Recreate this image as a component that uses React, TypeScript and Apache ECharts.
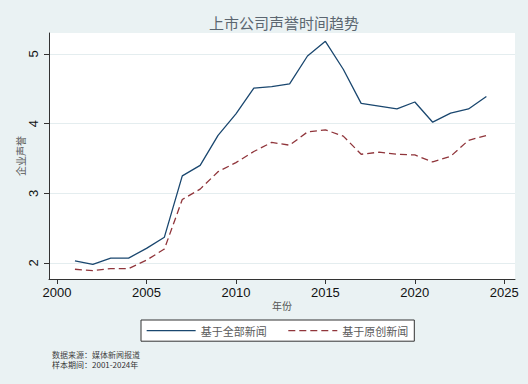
import React, { useEffect, useRef } from "react";
import * as echarts from "echarts";

const years = [2001, 2002, 2003, 2004, 2005, 2006, 2007, 2008, 2009, 2010, 2011, 2012, 2013, 2014, 2015, 2016, 2017, 2018, 2019, 2020, 2021, 2022, 2023, 2024];
const allNews = [2.03, 1.98, 2.07, 2.07, 2.21, 2.37, 3.25, 3.40, 3.83, 4.14, 4.51, 4.53, 4.57, 4.97, 5.18, 4.78, 4.29, 4.25, 4.21, 4.31, 4.02, 4.15, 4.21, 4.39];
const originalNews = [1.91, 1.89, 1.92, 1.92, 2.04, 2.20, 2.91, 3.06, 3.31, 3.44, 3.60, 3.73, 3.69, 3.88, 3.91, 3.82, 3.56, 3.59, 3.56, 3.55, 3.45, 3.53, 3.76, 3.83];
const xTicks = [2000, 2005, 2010, 2015, 2020, 2025];
const yTicks = [2, 3, 4, 5];
const seriesNames = ["基于全部新闻", "基于原创新闻"];
const title = "上市公司声誉时间趋势";
const xName = "年份";
const yName = "企业声誉";
const notes = ["数据来源：媒体新闻报道", "样本期间：2001-2024年"];

const FONT = "'Liberation Sans', 'Noto Sans CJK SC', sans-serif";
const CJK = "'Noto Sans CJK SC', 'Liberation Sans', sans-serif";

export default function App() {
  const ref = useRef<HTMLDivElement>(null);
  useEffect(() => {
    if (!ref.current) return;
    const chart = echarts.init(ref.current, null, { renderer: "svg" });
    chart.setOption({
      animation: false,
      backgroundColor: "#eaf2f3",
      title: {
        text: title,
        left: 279,
        textAlign: "center",
        top: 10,
        textStyle: { fontFamily: CJK, fontSize: 15, fontWeight: "normal", color: "#5b6670" },
      },
      grid: { left: 49, top: 33, right: 13, bottom: 105, backgroundColor: "#ffffff", show: true, borderWidth: 0 },
      xAxis: {
        type: "value",
        min: 1999.55,
        max: 2025.6,
        name: xName,
        nameLocation: "middle",
        nameGap: 21,
        nameMoveOverlap: false,
        nameTextStyle: { fontFamily: CJK, fontSize: 10, color: "#555" },
        axisLine: { show: true, onZero: false, lineStyle: { color: "#333", width: 1 } },
        axisTick: { show: true, length: 5, customValues: xTicks, lineStyle: { color: "#333" } },
        axisLabel: { customValues: xTicks, margin: 7, fontFamily: FONT, fontSize: 13, color: "#111", formatter: (v: number) => String(v) },
        splitLine: { show: false },
      },
      yAxis: {
        type: "value",
        min: 1.77,
        max: 5.3,
        name: yName,
        nameLocation: "middle",
        nameGap: 24,
        nameMoveOverlap: false,
        nameRotate: 90,
        nameTextStyle: { fontFamily: CJK, fontSize: 10, color: "#555" },
        axisLine: { show: true, onZero: false, lineStyle: { color: "#333", width: 1 } },
        axisTick: { show: true, length: 5, customValues: yTicks, lineStyle: { color: "#333" } },
        axisLabel: { customValues: yTicks, rotate: 90, margin: 9, fontFamily: FONT, fontSize: 13, color: "#111", formatter: (v: number) => String(v) },
        splitLine: { show: true, lineStyle: { color: "#e4edef", width: 1 } },
      },
      legend: {
        left: 141,
        top: 320,
        backgroundColor: "#ffffff",
        borderColor: "#333",
        borderWidth: 1,
        borderRadius: 0,
        padding: [5, 6, 5, 5],
        itemWidth: 49,
        itemHeight: 14,
        itemGap: 21,
        itemStyle: { opacity: 0 },
        lineStyle: { width: 1.3 },
        textStyle: { fontFamily: CJK, fontSize: 11, color: "#5a5a5a" },
        data: seriesNames,
      },
      series: [
        {
          name: seriesNames[0],
          type: "line",
          symbol: "none",
          data: years.map((y, i) => [y, allNews[i]]),
          lineStyle: { color: "#1a476f", width: 1.3 },
          itemStyle: { color: "#1a476f" },
        },
        {
          name: seriesNames[1],
          type: "line",
          symbol: "none",
          data: years.map((y, i) => [y, originalNews[i]]),
          lineStyle: { color: "#90353b", width: 1.3, type: [7, 4] },
          itemStyle: { color: "#90353b" },
        },
      ],
      graphic: [
        { type: "text", left: 52, top: 350, style: { text: notes[0], font: "8px " + CJK, fill: "#444" } },
        { type: "text", left: 52, top: 360, style: { text: notes[1], font: "8px " + CJK, fill: "#333" } },
      ],
    });
    return () => chart.dispose();
  }, []);
  return <div ref={ref} style={{ position: "fixed", left: 0, top: 0, width: 528, height: 384 }} />;
}
